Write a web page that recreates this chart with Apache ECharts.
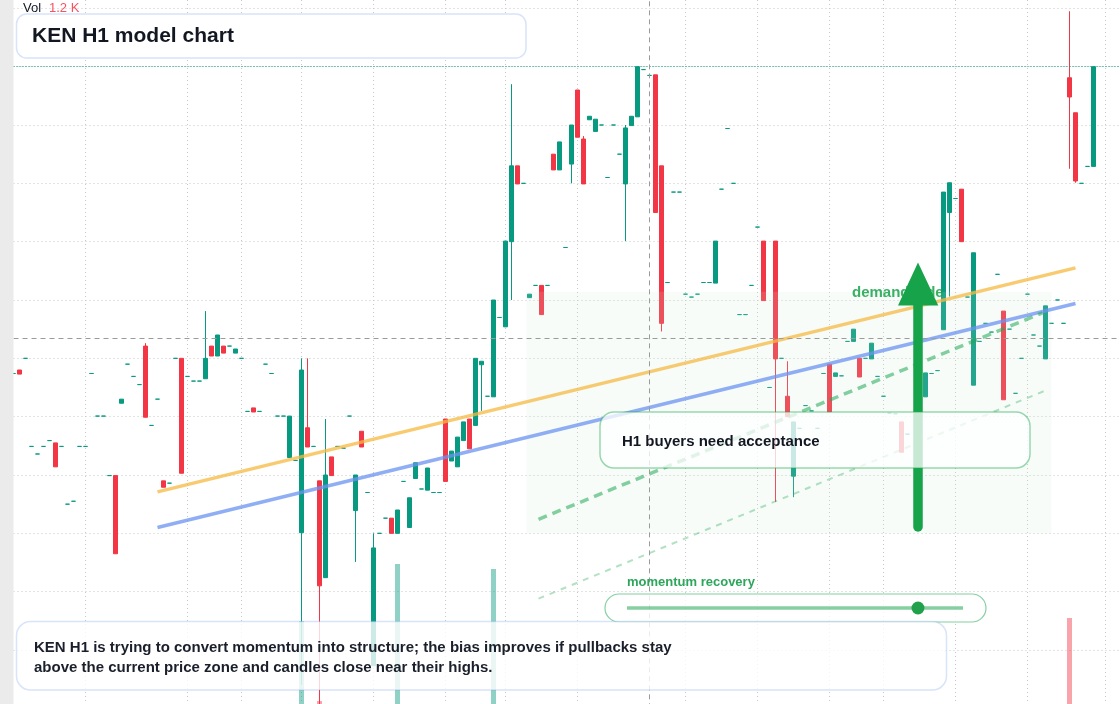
<!DOCTYPE html>
<html>
<head>
<meta charset="utf-8">
<title>KEN H1 model chart</title>
<script src="https://cdn.jsdelivr.net/npm/echarts@6/dist/echarts.min.js"></script>
<style>
html, body { margin: 0; padding: 0; background: #fff; }
#chart { width: 1120px; height: 704px; }
</style>
</head>
<body>
<div id="chart"></div>
<script>
// KEN H1 bars, oldest first. flat bars have open == close
var opens = [
	157.4, 158.0, 160.0, 144.9, 143.6, 144.9, 145.9, 145.5, 144.9, 135.0,
	135.5, 144.9, 144.9, 157.4, 150.1, 150.1, 139.9, 139.9, 152.3, 159.0,
	156.9, 155.5, 162.1, 148.5, 153.0, 139.0, 138.6, 160.0, 160.0, 156.9,
	156.1, 156.1, 156.5, 162.1, 160.4, 162.1, 162.1, 160.9, 160.0, 150.9,
	151.5, 150.9, 159.0, 157.4, 150.1, 150.1, 143.0, 142.5, 130.1, 148.1,
	144.9, 139.0, 122.4, 143.1, 144.9, 144.6, 150.1, 133.9, 147.5, 137.0,
	107.3, 130.0, 132.6, 132.6, 130.0, 138.9, 131.0, 139.4, 137.6, 137.4,
	137.0, 137.0, 149.6, 142.4, 141.4, 145.9, 149.6, 148.5, 158.9, 153.5,
	153.4, 167.0, 165.4, 180.0, 193.0, 190.0, 170.4, 172.5, 172.5, 172.5,
	195.0, 192.3, 179.0, 193.3, 206.0, 197.6, 200.9, 198.9, 200.0, 191.0,
	200.0, 195.0, 189.9, 199.9, 201.4, 209.5, 208.5, 208.6, 193.0, 173.0,
	188.5, 188.5, 171.0, 170.5, 171.0, 173.0, 173.0, 172.9, 189.0, 199.4,
	190.0, 167.5, 167.5, 172.5, 182.5, 180.1, 155.0, 180.1, 160.0, 153.5,
	139.8, 148.0, 151.9, 151.0, 148.0, 157.4, 159.0, 156.9, 157.0, 162.9,
	162.9, 160.0, 160.0, 159.9, 156.9, 153.5, 150.6, 150.5, 149.1, 147.0,
	170.9, 171.7, 153.4, 157.4, 157.9, 164.9, 185.0, 187.4, 189.0, 170.5,
	155.4, 162.9, 166.0, 164.5, 174.4, 168.1, 165.0, 154.0, 160.0, 171.0,
	164.0, 162.1, 159.9, 166.0, 170.0, 166.0, 208.1, 202.1, 190.0, 192.9,
	192.9
];
var closes = [
	157.4, 157.3, 160.0, 144.9, 143.6, 144.9, 145.9, 141.4, 144.9, 135.0,
	135.5, 144.9, 144.9, 157.4, 150.1, 150.1, 139.9, 126.5, 153.0, 159.0,
	156.9, 155.5, 149.9, 148.5, 153.0, 137.9, 138.6, 160.0, 140.3, 156.9,
	156.1, 156.1, 160.0, 160.4, 164.0, 160.9, 162.1, 161.6, 160.0, 150.9,
	150.8, 150.9, 159.0, 157.4, 150.1, 150.1, 150.1, 142.5, 158.0, 144.8,
	144.9, 121.0, 140.0, 139.9, 144.9, 144.6, 150.1, 140.0, 144.8, 137.0,
	127.5, 130.0, 132.6, 130.0, 134.0, 138.9, 136.1, 142.1, 137.6, 141.2,
	137.0, 137.0, 138.9, 144.1, 146.5, 149.1, 144.5, 160.0, 159.5, 153.5,
	170.0, 167.0, 180.1, 193.0, 189.9, 190.0, 171.0, 172.5, 167.5, 172.5,
	192.3, 197.1, 179.0, 200.0, 197.9, 189.9, 201.5, 201.0, 200.0, 191.0,
	200.0, 195.0, 199.5, 201.5, 210.0, 209.5, 208.5, 185.0, 166.0, 173.0,
	188.5, 188.5, 171.0, 170.5, 171.0, 173.0, 173.0, 180.1, 189.0, 199.4,
	190.0, 167.5, 167.5, 172.5, 182.5, 169.9, 155.0, 159.9, 160.0, 150.0,
	149.1, 148.0, 151.9, 151.0, 148.0, 157.4, 150.8, 157.5, 157.0, 162.9,
	165.0, 156.8, 160.0, 162.6, 156.9, 153.5, 150.6, 150.5, 143.9, 147.0,
	170.9, 171.7, 157.5, 157.4, 157.9, 188.5, 190.1, 187.4, 180.0, 170.5,
	178.1, 162.9, 166.0, 164.5, 174.4, 152.9, 165.0, 154.0, 160.0, 171.0,
	164.0, 162.1, 169.0, 166.0, 170.0, 166.0, 204.8, 190.4, 190.0, 192.9,
	210.0
];
// only bars with a visible wick beyond the body
var wickHigh = {22: 162.6, 32: 168.1, 48: 160.0, 49: 160.0, 52: 149.6, 60: 130.0,
	83: 207.0, 95: 198.1, 102: 200.0, 129: 159.5, 176: 219.5};
var wickLow = {48: 104.0, 51: 100.7, 57: 125.1, 78: 151.0, 83: 170.0, 93: 190.0,
	102: 180.1, 108: 164.6, 127: 135.4, 130: 136.2, 156: 170.6, 176: 192.5, 177: 190.1};
var volumes = [
	900, 1100, 800, 1300, 900, 1000, 850, 1600, 900, 1200,
	1000, 1400, 900, 1700, 1100, 800, 1200, 2600, 1300, 1500,
	1000, 900, 2800, 1100, 1300, 1500, 900, 1400, 2700, 1200,
	800, 950, 2400, 1600, 1900, 1300, 900, 1100, 1000, 1700,
	1200, 850, 1500, 1100, 1300, 900, 2200, 1000, 74000, 2500,
	1100, 6200, 2900, 1800, 1000, 900, 1300, 2300, 1600, 1000,
	2900, 1200, 1400, 1500, 122200, 1100, 2100, 1800, 1000, 1900,
	900, 800, 2700, 1400, 2000, 1700, 1800, 2600, 1500, 1100,
	118000, 1300, 2800, 2900, 1600, 1000, 1200, 900, 1900, 1000,
	1700, 2100, 1300, 2200, 2500, 2300, 1100, 1400, 900, 1200,
	1000, 1300, 2400, 1500, 2800, 1100, 900, 2900, 2900, 1200,
	1000, 800, 1100, 900, 1000, 1200, 950, 2000, 1300, 1500,
	1100, 1000, 850, 1200, 1400, 2200, 1300, 2700, 1100, 1500,
	2100, 1000, 1200, 900, 1100, 1300, 2000, 1000, 900, 1200,
	1500, 1600, 1000, 1700, 1100, 1300, 1000, 900, 1400, 1100,
	1000, 1200, 1800, 1000, 900, 2800, 2100, 1100, 2000, 1300,
	2700, 1100, 1200, 1000, 1300, 2500, 1100, 1200, 1000, 1300,
	1100, 900, 2300, 1000, 1200, 1100, 76500, 2600, 1000, 1300,
	1200
];
var sessionCols = [12, 29, 38, 48, 60, 72, 82, 94, 112, 124, 136, 145, 157, 169, 182];
var padBars = 5;           // empty slots after the last bar
var crossBar = 106, crossPrice = 163.4;
var trendUpper = [[24, 137.1], [177, 175.5]];
var trendLower = [[24, 131.0], [177, 169.4]];
var channelMid = [[87.5, 132.4], [171.5, 167.8]];
var channelLow = [[87.5, 118.8], [172.5, 154.7]];
var demandZone = [85.5, 171.4, 173, 130.0];   // x0, top, x1, bottom
var momentumScore = 0.866;

var UP = '#089981', DOWN = '#f23645';
var FONT = 'Arial, "Liberation Sans", sans-serif';

var cats = [], candles = [], volData = [];
for (var i = 0; i < opens.length + padBars; i++) {
	cats.push('H' + i);
	if (i >= opens.length) continue;
	var o = opens[i], c = closes[i];
	if (c === o) c = o + 0.001; // flat bars print teal
	var hi = wickHigh[i] != null ? wickHigh[i] : Math.max(o, c);
	var lo = wickLow[i] != null ? wickLow[i] : Math.min(o, c);
	candles.push([o, c, lo, hi]);
	volData.push({
		value: volumes[i],
		itemStyle: {color: c >= o ? 'rgba(8,153,129,0.45)' : 'rgba(242,54,69,0.45)'}
	});
}
var lastClose = closes[closes.length - 1];
var lastVol = (volumes[volumes.length - 1] / 1000).toFixed(1) + ' K';

function box(x, y, w, h, r, fill, stroke, lw, z) {
	return {type: 'rect', z: z, silent: true, shape: {x: x, y: y, width: w, height: h, r: r},
		style: {fill: fill, stroke: stroke, lineWidth: lw}};
}
function label(x, y, txt, size, color, weight, z) {
	return {type: 'text', z: z, silent: true, x: x, y: y,
		style: {text: txt, fontSize: size, fontWeight: weight, fontFamily: FONT, fill: color,
			align: 'left', verticalAlign: 'middle'}};
}

var trackX0 = 627, trackX1 = 963;

var dom = document.getElementById('chart');
var myChart = echarts.init(dom);
var option = {
	animation: false,
	backgroundColor: '#fff',
	grid: {left: 13.5, top: 0, width: 1110, height: 708.33, containLabel: false, outerBoundsMode: 'none'},
	xAxis: [{
		type: 'category',
		data: cats,
		boundaryGap: false,
		axisLine: {show: false},
		axisTick: {show: false},
		axisLabel: {show: false},
		splitLine: {
			show: true,
			interval: function (idx) { return sessionCols.indexOf(idx) >= 0; },
			lineStyle: {color: '#c8c8c8', width: 1, type: [1, 3]}
		}
	}, {
		type: 'value', min: 0, max: cats.length - 1, show: false
	}],
	yAxis: [{
		type: 'value',
		min: 100,
		max: 221.43,
		interval: 10,
		axisLine: {show: false},
		axisTick: {show: false},
		axisLabel: {show: false},
		splitLine: {show: true, showMaxLine: false, showMinLine: false,
			lineStyle: {color: '#c8c8c8', width: 1, type: [1, 3]}}
	}, {
		type: 'value', min: 0, max: 600000, show: false
	}],
	series: [
		{
			name: 'Vol',
			type: 'bar',
			xAxisIndex: 0,
			yAxisIndex: 1,
			barWidth: 5,
			z: 1,
			silent: true,
			data: volData
		},
		{
			name: 'KEN H1',
			type: 'candlestick',
			xAxisIndex: 0,
			yAxisIndex: 0,
			barWidth: 4,
			z: 2,
			silent: true,
			data: candles,
			itemStyle: {color: UP, color0: DOWN, borderColor: UP, borderColor0: DOWN, borderWidth: 1},
			markLine: {
				silent: true,
				symbol: ['none', 'none'],
				label: {show: false},
				data: [
					{yAxis: lastClose, lineStyle: {color: UP, width: 1, type: [1, 2]}},
					{xAxis: crossBar, lineStyle: {color: '#9b9b9b', width: 1, type: [5, 4]}},
					{yAxis: crossPrice, lineStyle: {color: '#9b9b9b', width: 1, type: [5, 4]}}
				]
			}
		},
		{
			name: 'demand side',
			type: 'custom',
			xAxisIndex: 1,
			yAxisIndex: 0,
			z: 3,
			silent: true,
			data: [demandZone],
			encode: {x: [0, 2], y: [1, 3]},
			renderItem: function (params, api) {
				var a = api.coord([api.value(0), api.value(1)]);
				var b = api.coord([api.value(2), api.value(3)]);
				return {type: 'rect', shape: {x: a[0], y: a[1], width: b[0] - a[0], height: b[1] - a[1]},
					style: {fill: 'rgba(200,238,212,0.15)'}};
			}
		},
		{
			type: 'line', xAxisIndex: 1, yAxisIndex: 0, z: 4, silent: true,
			symbol: 'none', data: trendUpper,
			lineStyle: {color: 'rgba(245,185,66,0.75)', width: 3.5}
		},
		{
			type: 'line', xAxisIndex: 1, yAxisIndex: 0, z: 4, silent: true,
			symbol: 'none', data: trendLower,
			lineStyle: {color: 'rgba(107,147,240,0.75)', width: 3.5}
		},
		{
			type: 'line', xAxisIndex: 1, yAxisIndex: 0, z: 4, silent: true,
			symbol: 'none', data: channelMid,
			lineStyle: {color: 'rgba(34,168,83,0.55)', width: 3.5, type: [9, 6]}
		},
		{
			type: 'line', xAxisIndex: 1, yAxisIndex: 0, z: 4, silent: true,
			symbol: 'none', data: channelLow,
			lineStyle: {color: 'rgba(34,168,83,0.35)', width: 2, type: [6, 6]}
		}
	],
	graphic: [
		// left strip
		{type: 'rect', z: 200, silent: true, shape: {x: 0, y: 0, width: 13.5, height: 704}, style: {fill: '#ebebeb'}},
		label(23, 8.5, 'Vol', 13, '#131722', 'normal', 120),
		label(49, 8.5, lastVol, 13, '#f7525f', 'normal', 120),
		box(16.5, 14, 509.5, 44, 10, '#ffffff', 'rgba(100,149,237,0.25)', 1.5, 110),
		label(32, 36.5, 'KEN H1 model chart', 21, '#131722', 'bold', 111),
		label(852, 293, 'demand side', 15, 'rgba(22,163,74,0.85)', 'bold', 100),
		// arrow
		{type: 'line', z: 102, silent: true, shape: {x1: 918, y1: 527, x2: 918, y2: 300},
			style: {stroke: '#16a34a', lineWidth: 9.5, lineCap: 'round'}},
		{type: 'polygon', z: 102, silent: true, shape: {points: [[898, 305.5], [938.3, 305.5], [918, 262.5]]},
			style: {fill: '#16a34a'}},
		box(600, 412, 430, 56, 14, 'rgba(255,255,255,0.76)', 'rgba(34,168,83,0.45)', 1.5, 110),
		label(622, 441.5, 'H1 buyers need acceptance', 15, '#131722', 'bold', 111),
		label(627, 582.5, 'momentum recovery', 13, '#2da55b', 'bold', 111),
		box(605, 594, 381, 28, 14, 'rgba(255,255,255,0.8)', 'rgba(34,168,83,0.55)', 1.2, 110),
		{type: 'line', z: 111, silent: true, shape: {x1: trackX0, y1: 608, x2: trackX1, y2: 608},
			style: {stroke: 'rgba(34,168,83,0.55)', lineWidth: 3.5}},
		{type: 'circle', z: 112, silent: true,
			shape: {cx: trackX0 + (trackX1 - trackX0) * momentumScore, cy: 608, r: 6.5},
			style: {fill: '#22a04b'}},
		box(16.5, 621.5, 930, 68.5, 14, 'rgba(255,255,255,0.8)', 'rgba(100,149,237,0.25)', 1.5, 110),
		label(34, 648, 'KEN H1 is trying to convert momentum into structure; the bias improves if pullbacks stay', 15, '#1a1f2b', 'bold', 111),
		label(34, 667.5, 'above the current price zone and candles close near their highs.', 15, '#1a1f2b', 'bold', 111)
	]
};
if (option && typeof option === "object") {
	myChart.setOption(option, true);
}
</script>
</body>
</html>
